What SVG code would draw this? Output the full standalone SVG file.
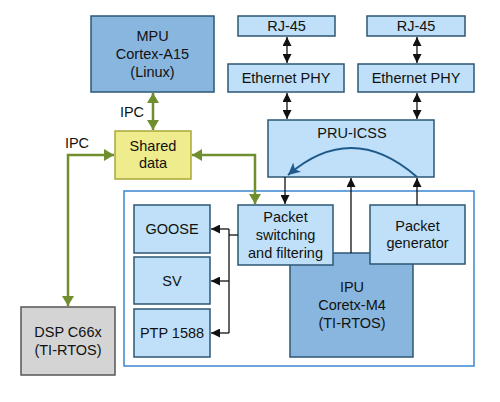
<svg xmlns="http://www.w3.org/2000/svg" width="500" height="402" viewBox="0 0 500 402">
<style>
text{font-family:"Liberation Sans",Arial,sans-serif;font-size:14.5px;fill:#111;text-anchor:middle}
.lb{fill:#bfe0f8;stroke:#2c5775;stroke-width:1.5}
.mb{fill:#89b6df;stroke:#2c5775;stroke-width:1.5}
.k{fill:none;stroke:#111;stroke-width:1.3}
.g{fill:none;stroke:#6f8f2f;stroke-width:2.5}
</style>
<defs>
<marker id="ak" markerUnits="userSpaceOnUse" markerWidth="10" markerHeight="9" refX="9" refY="4.5" orient="auto-start-reverse"><path d="M0,0 L9,4.5 L0,9 z" fill="#111"/></marker>
<marker id="ag" markerUnits="userSpaceOnUse" markerWidth="11" markerHeight="12" refX="10" refY="6" orient="auto-start-reverse"><path d="M0,0 L10,6 L0,12 z" fill="#6f8f2f"/></marker>
<marker id="ab" markerUnits="userSpaceOnUse" markerWidth="13" markerHeight="12" refX="12" refY="6" orient="auto"><path d="M0,0 L12,6 L0,12 L3,6 z" fill="#1f5a8a"/></marker>
</defs>

<rect x="124" y="191" width="350" height="175" fill="#fff" stroke="#3a86d0" stroke-width="1.5"/>

<g id="mpu"><rect class="mb" x="91" y="16" width="123" height="76"/><text x="152.5" y="41">MPU</text><text x="152.5" y="59">Cortex-A15</text><text x="152.5" y="77">(Linux)</text></g>
<g id="shared"><rect x="115" y="131" width="76" height="48" fill="#eeec8c" stroke="#a9a83a" stroke-width="1.5"/><text x="153" y="151">Shared</text><text x="153" y="168">data</text></g>
<g id="dsp"><rect x="21" y="307" width="94" height="68" fill="#d4d4d4" stroke="#555" stroke-width="1.5"/><text x="68" y="337">DSP C66x</text><text x="68" y="355">(TI-RTOS)</text></g>
<g id="rj45a"><rect class="lb" x="238" y="16" width="97" height="20"/><text x="286.5" y="31">RJ-45</text></g>
<g id="rj45b"><rect class="lb" x="367" y="16" width="98" height="20"/><text x="416" y="31">RJ-45</text></g>
<g id="phya"><rect class="lb" x="228" y="64" width="116" height="28"/><text x="286" y="83">Ethernet PHY</text></g>
<g id="phyb"><rect class="lb" x="358" y="64" width="116" height="28"/><text x="416" y="83">Ethernet PHY</text></g>
<g id="pru"><rect class="lb" x="268" y="120" width="166" height="57"/><text x="352" y="138">PRU-ICSS</text></g>
<g id="ipu"><rect class="mb" x="290" y="253" width="123" height="104"/><text x="352" y="292">IPU</text><text x="352" y="310">Coretx-M4</text><text x="352" y="328">(TI-RTOS)</text></g>
<g id="switch"><rect class="lb" x="238" y="205" width="95" height="60"/><text x="285.5" y="222">Packet</text><text x="285.5" y="240">switching</text><text x="285.5" y="258">and filtering</text></g>
<g id="gen"><rect class="lb" x="370" y="205" width="95" height="59"/><text x="417.5" y="231">Packet</text><text x="417.5" y="248">generator</text></g>
<g id="goose"><rect class="lb" x="134" y="205" width="76" height="48"/><text x="172" y="234">GOOSE</text></g>
<g id="sv"><rect class="lb" x="134" y="257" width="76" height="47"/><text x="172" y="286">SV</text></g>
<g id="ptp"><rect class="lb" x="134" y="309" width="76" height="48"/><text x="172" y="338">PTP 1588</text></g>

<g id="connectors">
<line class="g" x1="153" y1="93" x2="153" y2="130" marker-start="url(#ag)" marker-end="url(#ag)"/>
<polyline class="g" points="68,306 68,155 114,155" marker-start="url(#ag)" marker-end="url(#ag)"/>
<polyline class="g" points="192,155 255,155 255,204" marker-start="url(#ag)" marker-end="url(#ag)"/>
<line class="k" x1="287" y1="37" x2="287" y2="63" marker-start="url(#ak)" marker-end="url(#ak)"/>
<line class="k" x1="417" y1="37" x2="417" y2="63" marker-start="url(#ak)" marker-end="url(#ak)"/>
<line class="k" x1="287" y1="93" x2="287" y2="119" marker-start="url(#ak)" marker-end="url(#ak)"/>
<line class="k" x1="417" y1="93" x2="417" y2="119" marker-start="url(#ak)" marker-end="url(#ak)"/>
<line class="k" x1="285" y1="177" x2="285" y2="204" marker-end="url(#ak)"/>
<line class="k" x1="351" y1="253" x2="351" y2="178" marker-end="url(#ak)"/>
<line class="k" x1="417" y1="205" x2="417" y2="178" marker-end="url(#ak)"/>
<polyline class="k" points="238,235 229,235"/>
<line class="k" x1="229" y1="229" x2="229" y2="333"/>
<line class="k" x1="229" y1="229" x2="211" y2="229" marker-end="url(#ak)"/>
<line class="k" x1="229" y1="281" x2="211" y2="281" marker-end="url(#ak)"/>
<line class="k" x1="229" y1="333" x2="211" y2="333" marker-end="url(#ak)"/>
<path d="M417,177 Q352,120 288,175" fill="none" stroke="#1f5a8a" stroke-width="2" marker-end="url(#ab)"/>
</g>
<text x="132" y="117">IPC</text>
<text x="77" y="148">IPC</text>
</svg>
